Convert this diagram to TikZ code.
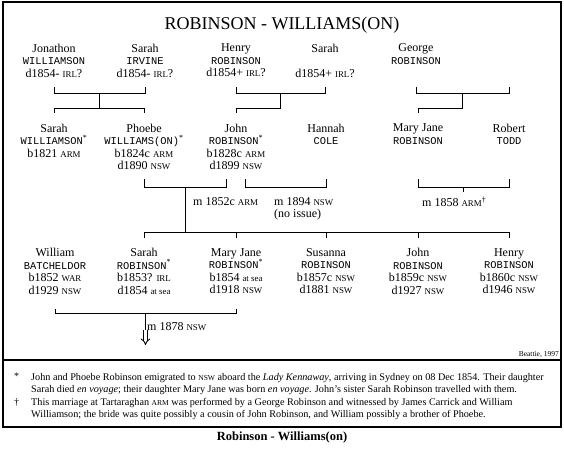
\documentclass[tikz,border=0pt]{standalone}
\usepackage{fontspec}
\setmainfont{Liberation Serif}
\newfontfamily\sufont{Liberation Mono}
\usetikzlibrary{arrows.meta}
\makeatletter
\newcommand\abbr[1]{{\fontsize{\fpeval{0.74*\f@size}}{\f@baselineskip}\selectfont #1}}
\makeatother
\newcommand\surname[1]{{\sufont\fontsize{10.4}{12.5}\selectfont #1}}
\newcommand\starmark{\textsuperscript{*}}
\newcommand\daggermark{\textsuperscript{\textdagger}}

\begin{document}
\begin{tikzpicture}[x=1pt,y=-1pt,
  person/.style={align=center,anchor=north,inner sep=0pt,font=\fontsize{12}{12.5}\selectfont},
  marriage/.style={anchor=west,inner sep=0pt,align=left,font=\fontsize{12}{12.5}\selectfont},
  link/.style={line width=0.9pt}]
\useasboundingbox (0,0) rectangle (564,449);
\draw[line width=2pt] (2.5,2.5) rectangle (561,427);
\draw[line width=2.5pt] (2.5,360) -- (561,360);
\node[anchor=base,inner sep=0pt,font=\fontsize{18}{18}\selectfont] (title) at (282,29.5) {ROBINSON - WILLIAMS(ON)};
\node[person] (jonathon) at (54,43.5) {Jonathon\\\surname{WILLIAMSON}\\d1854- \abbr{IRL}?};
\node[person] (sarahI) at (145,43.5) {Sarah\\\surname{IRVINE}\\d1854- \abbr{IRL}?};
\node[person] (henry) at (236,43.5) {Henry\\\surname{ROBINSON}\\d1854+ \abbr{IRL}?};
\node[person] (sarahR) at (325,43.5) {Sarah\\\strut\\d1854+ \abbr{IRL}?};
\node[person] (george) at (416,43.5) {George\\\surname{ROBINSON}};
\node[person] (sarahW) at (54,123.5) {Sarah\\\surname{WILLIAMSON}\starmark\\b1821 \abbr{ARM}};
\node[person] (phoebe) at (144,123.5) {Phoebe\\\surname{WILLIAMS(ON)}\starmark\\b1824c \abbr{ARM}\\d1890 \abbr{NSW}};
\node[person] (john) at (236,123.5) {John\\\surname{ROBINSON}\starmark\\b1828c \abbr{ARM}\\d1899 \abbr{NSW}};
\node[person] (hannah) at (326,123.5) {Hannah\\\surname{COLE}};
\node[person] (maryjane) at (418,123.5) {Mary Jane\\\surname{ROBINSON}};
\node[person] (robert) at (509,123.5) {Robert\\\surname{TODD}};
\node[person] (william) at (55,248) {William\\\surname{BATCHELDOR}\\b1852 \abbr{WAR}\\d1929 \abbr{NSW}};
\node[person] (sarahC) at (144,248) {Sarah\\\surname{ROBINSON}\starmark\\b1853? \abbr{IRL}\\d1854 \abbr{at sea}};
\node[person] (maryjaneC) at (236,248) {Mary Jane\\\surname{ROBINSON}\starmark\\b1854 \abbr{at sea}\\d1918 \abbr{NSW}};
\node[person] (susanna) at (326,248) {Susanna\\\surname{ROBINSON}\\b1857c \abbr{NSW}\\d1881 \abbr{NSW}};
\node[person] (johnC) at (418,248) {John\\\surname{ROBINSON}\\b1859c \abbr{NSW}\\d1927 \abbr{NSW}};
\node[person] (henryC) at (509,248) {Henry\\\surname{ROBINSON}\\b1860c \abbr{NSW}\\d1946 \abbr{NSW}};
\draw[link] (jonathon |- 0,87) |- (sarahI |- 0,93) -- (sarahI |- 0,87);
\path (jonathon |- 0,93) -- coordinate[midway] (wedA) (sarahI |- 0,93);
\draw[link] (wedA) -- (wedA |- 0,108);
\draw[link] (sarahW |- 0,113) |- (phoebe |- 0,108) -- (phoebe |- 0,113);
\draw[link] (henry |- 0,87) |- (sarahR |- 0,93) -- (sarahR |- 0,87);
\path (henry |- 0,93) -- coordinate[midway] (wedB) (sarahR |- 0,93);
\draw[link] (wedB) |- (john |- 0,108) -- (john |- 0,113);
\draw[link] (george |- 0,87) |- (robert |- 0,93) -- (robert |- 0,87);
\path (george |- 0,93) -- coordinate[midway] (wedC) (robert |- 0,93);
\draw[link] (wedC) |- (maryjane |- 0,108) -- (maryjane |- 0,113);
\draw[link] (phoebe |- 0,179) |- ([xshift=-10pt]john.center |- 0,187) -- ([xshift=-10pt]john.center |- 0,179);
\path (phoebe |- 0,187) -- coordinate[midway] (wedD) ([xshift=-10pt]john.center |- 0,187);
\draw[link] ([xshift=9pt]john.center |- 0,179) |- (hannah |- 0,187) -- (hannah |- 0,179);
\draw[link] (maryjane |- 0,179) |- (robert |- 0,187) -- (robert |- 0,179);
\path (maryjane |- 0,187) -- coordinate[midway] (wedE) (robert |- 0,187);
\draw[link] (wedE) -- (wedE |- 0,192);
\draw[link] (wedD) -- (wedD |- 0,232);
\draw[link] (sarahC |- 0,238) |- (henryC |- 0,232) -- (henryC |- 0,238);
\foreach \child in {maryjaneC,susanna,johnC}
  \draw[link] (\child |- 0,232) -- (\child |- 0,238);
\draw[link] (william |- 0,309) |- (maryjaneC |- 0,313) -- (maryjaneC |- 0,309);
\path (william |- 0,313) -- coordinate[midway] (wedF) (maryjaneC |- 0,313);
\coordinate (issue) at (wedF |- 0,345);
\draw[link] (wedF) -- (wedF |- 0,331);
\draw[line width=0.9pt,double,double distance=2.4pt,-{Implies}] (wedF |- 0,330) -- (issue);
\node[marriage] (m1852) at (193,202) {m 1852c \abbr{ARM}};
\node[marriage,anchor=north west] (m1894) at (274,197) {m 1894 \abbr{NSW}\\(no issue)};
\node[marriage] (m1858) at (422,202) {m 1858 \abbr{ARM}\daggermark};
\node[marriage] (m1878) at (147,327) {m 1878 \abbr{NSW}};
\node[anchor=base east,inner sep=0pt,font=\fontsize{7.5}{7.5}\selectfont] (credit) at (559,356.5) {Beattie, 1997};
\node[anchor=north west,inner sep=0pt,align=left,font=\fontsize{10.2}{12.5}\selectfont] (notes) at (31,373) {John and Phoebe Robinson emigrated to \abbr{NSW} aboard the \textit{Lady Kennaway}, arriving in Sydney on 08 Dec 1854. Their daughter\\
Sarah died \textit{en voyage}; their daughter Mary Jane was born \textit{en voyage}. John's sister Sarah Robinson travelled with them.\\
This marriage at Tartaraghan \abbr{ARM} was performed by a George Robinson and witnessed by James Carrick and William\\
Williamson; the bride was quite possibly a cousin of John Robinson, and William possibly a brother of Phoebe.};
\node[anchor=north west,inner sep=0pt,font=\fontsize{10}{12.5}\selectfont] (starnote) at (14,373) {*};
\node[anchor=north west,inner sep=0pt,font=\fontsize{10}{12.5}\selectfont] (dagnote) at (14,398) {\textdagger};
\node[inner sep=0pt,font=\bfseries\fontsize{12.5}{12.5}\selectfont] (caption) at (282,437) {Robinson - Williams(on)};
\end{tikzpicture}
\end{document}
